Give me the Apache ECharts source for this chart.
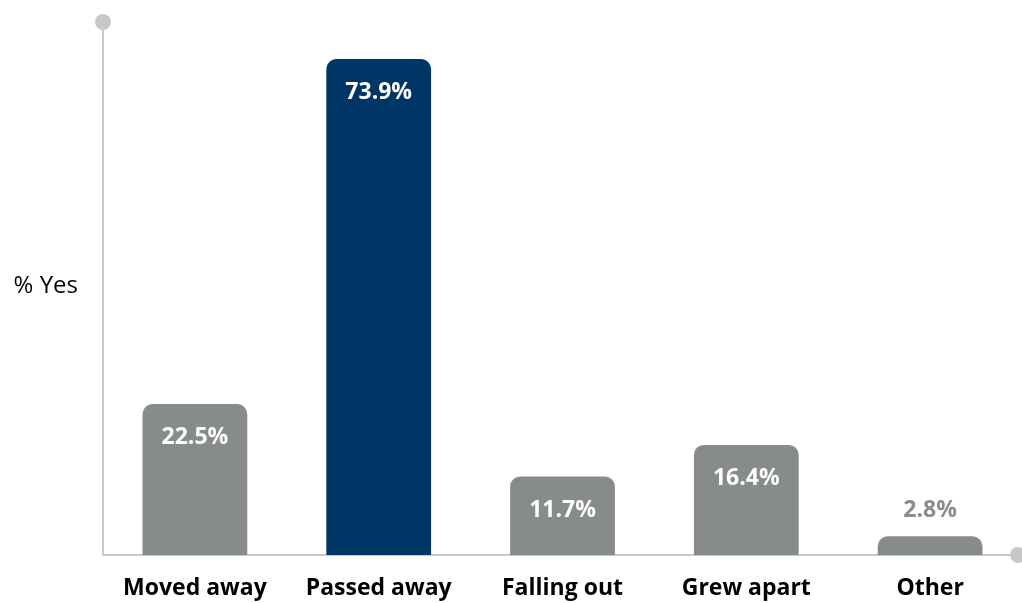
<!DOCTYPE html>
<html><head><meta charset="utf-8">
<script src="https://cdn.jsdelivr.net/npm/echarts@6/dist/echarts.min.js"></script>
<style>html,body{margin:0;padding:0;background:#fff}#c{width:1022px;height:603px}</style>
</head><body><div id="c"></div>
<script>
const categories = ['Moved away', 'Passed away', 'Falling out', 'Grew apart', 'Other'];
const values = [22.5, 73.9, 11.7, 16.4, 2.8];
const highlightIndex = 1;
const yTitle = '% Yes';

const FONT = 'Open Sans, Liberation Sans, sans-serif';
const chart = echarts.init(document.getElementById('c'));
chart.setOption({
  animation: false,
  grid: {left: 103, right: -1, top: 18, bottom: 48, containLabel: false},
  xAxis: {
    type: 'category', data: categories,
    axisLine: {show: true, lineStyle: {color: '#c8c8c8', width: 2}, symbol: ['none', 'circle'], symbolSize: [16, 16], symbolOffset: [0, -4]},
    axisTick: {show: false},
    axisLabel: {interval: 0, hideOverlap: false, color: '#000', fontSize: 23, fontWeight: 'bold', fontFamily: FONT, margin: 22}
  },
  yAxis: {
    type: 'value', min: 0, max: 80,
    name: yTitle, nameLocation: 'middle', nameRotate: 0, nameGap: 25,
    nameTextStyle: {color: '#000', fontSize: 24, fontFamily: FONT, align: 'right', padding: [12, 0, 0, 0]},
    axisLine: {show: true, lineStyle: {color: '#c8c8c8', width: 2}, symbol: ['none', 'circle'], symbolSize: [16, 16], symbolOffset: [0, -4]},
    axisTick: {show: false}, axisLabel: {show: false}, splitLine: {show: false}
  },
  series: [{
    type: 'bar', barWidth: '57%',
    data: values.map((v, i) => ({
      value: v,
      itemStyle: {color: i === highlightIndex ? '#003665' : '#888b8c', borderRadius: [10, 10, 0, 0]},
      label: v < 5 ? {position: 'top', color: '#8c8c8c', distance: 14} : {position: 'insideTop', color: '#fff', distance: 22}
    })),
    label: {show: true, formatter: p => p.value.toFixed(1) + '%', fontSize: 23, fontWeight: 'bold', fontFamily: FONT}
  }]
});
</script></body></html>
